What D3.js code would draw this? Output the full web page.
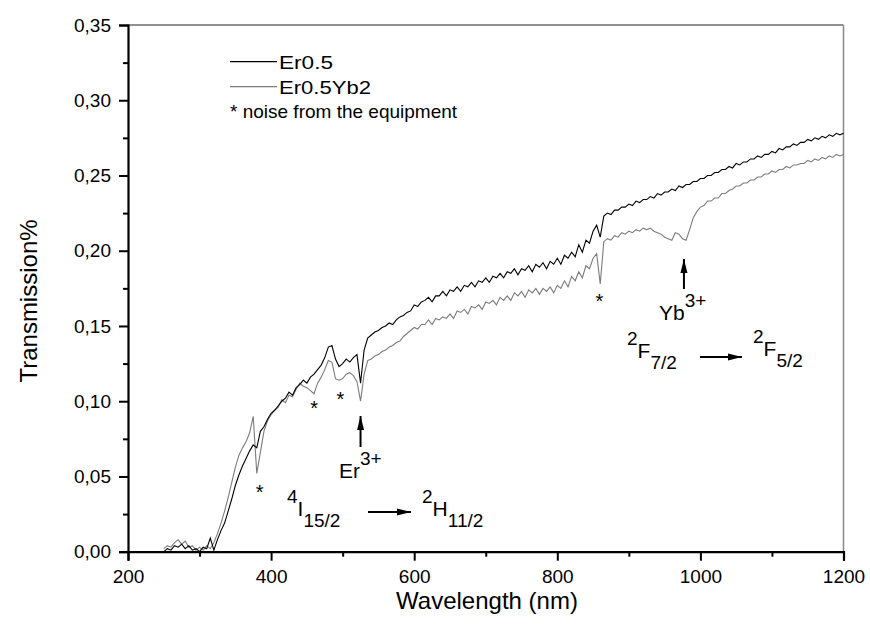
<!DOCTYPE html>
<html><head><meta charset="utf-8">
<script src="https://cdn.jsdelivr.net/npm/d3@7"></script>
<style>
html,body{margin:0;padding:0;background:#fff;}
svg text{font-family:"Liberation Sans",Arial,sans-serif;fill:#000;}
</style></head>
<body><svg id="chart" width="870" height="633"></svg>
<script>
const wavelength = [250,255,260,265,270,275,280,285,290,295,300,305,310,315,320,325,330,335,340,345,350,355,360,365,370,375,380,385,390,395,400,405,410,415,420,425,430,435,440,445,450,455,460,465,470,475,480,485,490,495,500,505,510,515,520,525,530,535,540,545,550,555,560,565,570,575,580,585,590,595,600,605,610,615,620,625,630,635,640,645,650,655,660,665,670,675,680,685,690,695,700,705,710,715,720,725,730,735,740,745,750,755,760,765,770,775,780,785,790,795,800,805,810,815,820,825,830,835,840,845,850,855,860,865,870,875,880,885,890,895,900,905,910,915,920,925,930,935,940,945,950,955,960,965,970,975,980,985,990,995,1000,1005,1010,1015,1020,1025,1030,1035,1040,1045,1050,1055,1060,1065,1070,1075,1080,1085,1090,1095,1100,1105,1110,1115,1120,1125,1130,1135,1140,1145,1150,1155,1160,1165,1170,1175,1180,1185,1190,1195,1200];

const er05 = [
0.000,0.002,0.001,0.004,0.003,0.005,0.002,0.004,0.001,0.002,
0.000,0.003,0.002,0.009,0.001,0.008,0.014,0.019,0.027,0.035,
0.044,0.051,0.057,0.062,0.067,0.071,0.069,0.080,0.083,0.088,
0.092,0.094,0.097,0.100,0.102,0.106,0.104,0.109,0.111,0.114,
0.112,0.116,0.118,0.121,0.124,0.129,0.136,0.137,0.128,0.123,
0.125,0.128,0.126,0.129,0.131,0.112,0.134,0.142,0.144,0.146,
0.147,0.149,0.150,0.152,0.151,0.154,0.156,0.157,0.159,0.160,
0.164,0.163,0.166,0.167,0.169,0.166,0.170,0.170,0.173,0.170,
0.174,0.173,0.176,0.173,0.177,0.176,0.179,0.176,0.180,0.179,
0.182,0.179,0.183,0.182,0.185,0.182,0.186,0.185,0.188,0.184,
0.188,0.187,0.190,0.186,0.191,0.189,0.192,0.188,0.193,0.191,
0.195,0.191,0.197,0.195,0.199,0.196,0.204,0.199,0.207,0.205,
0.213,0.217,0.209,0.223,0.225,0.224,0.227,0.227,0.229,0.229,
0.231,0.230,0.233,0.232,0.234,0.234,0.236,0.235,0.238,0.237,
0.239,0.239,0.241,0.240,0.243,0.242,0.244,0.244,0.246,0.246,
0.248,0.248,0.250,0.250,0.252,0.252,0.254,0.254,0.256,0.255,
0.258,0.257,0.259,0.259,0.261,0.261,0.263,0.262,0.264,0.264,
0.266,0.265,0.268,0.267,0.269,0.269,0.271,0.270,0.272,0.272,
0.274,0.273,0.275,0.274,0.276,0.275,0.277,0.276,0.278,0.277,
0.278];

const er05yb2 = [
0.002,0.004,0.003,0.006,0.008,0.005,0.007,0.003,0.004,0.001,
0.003,0.001,0.004,0.002,0.006,0.012,0.019,0.027,0.036,0.046,
0.056,0.064,0.069,0.073,0.079,0.090,0.052,0.066,0.080,0.087,
0.091,0.094,0.096,0.101,0.099,0.104,0.103,0.108,0.112,0.110,
0.109,0.107,0.105,0.112,0.116,0.121,0.127,0.126,0.115,0.114,
0.115,0.118,0.119,0.117,0.113,0.100,0.118,0.127,0.128,0.130,
0.131,0.133,0.134,0.136,0.137,0.139,0.140,0.143,0.145,0.147,
0.149,0.148,0.151,0.151,0.154,0.151,0.155,0.154,0.156,0.155,
0.158,0.155,0.160,0.159,0.161,0.158,0.163,0.162,0.164,0.161,
0.166,0.165,0.167,0.164,0.169,0.167,0.170,0.167,0.172,0.170,
0.173,0.169,0.174,0.172,0.175,0.171,0.175,0.173,0.176,0.172,
0.177,0.175,0.180,0.176,0.183,0.180,0.186,0.182,0.190,0.188,
0.195,0.198,0.178,0.206,0.208,0.207,0.210,0.209,0.212,0.211,
0.213,0.212,0.214,0.213,0.215,0.214,0.215,0.213,0.212,0.211,
0.209,0.208,0.207,0.212,0.211,0.208,0.207,0.214,0.222,0.226,
0.229,0.230,0.233,0.233,0.235,0.235,0.238,0.238,0.240,0.241,
0.243,0.243,0.245,0.245,0.247,0.247,0.249,0.249,0.251,0.251,
0.253,0.252,0.254,0.254,0.256,0.255,0.257,0.257,0.258,0.258,
0.260,0.259,0.261,0.260,0.262,0.261,0.263,0.262,0.264,0.263,
0.264];

const seriesNames = ["Er0.5", "Er0.5Yb2"];
const seriesColors = ["#000000", "#7c7c7c"];
const xTicks = [200, 400, 600, 800, 1000, 1200];
const xMinorTicks = [300, 500, 700, 900, 1100];
const yTicks = [0, 0.05, 0.10, 0.15, 0.20, 0.25, 0.30, 0.35];
const yTickLabels = ["0,00","0,05","0,10","0,15","0,20","0,25","0,30","0,35"];
const yMinorTicks = [0.025, 0.075, 0.125, 0.175, 0.225, 0.275, 0.325];
const noiseMarks = [[384, 0.051], [460, 0.107], [497, 0.113], [859, 0.178]];

const svg = d3.select("#chart");
const L = 128, R = 843.5, T = 25, B = 551.7;
const x = d3.scaleLinear().domain([200, 1200]).range([L, R]);
const y = d3.scaleLinear().domain([0, 0.35]).range([B, T]);

svg.append("line").attr("x1", L).attr("x2", R).attr("y1", T).attr("y2", T)
  .style("stroke", "#222").style("stroke-width", 1.2);
svg.append("line").attr("x1", R).attr("x2", R).attr("y1", T).attr("y2", B)
  .style("stroke", "#888").style("stroke-width", 1.5);

const series = [er05, er05yb2];
const line = d3.line().x((d, i) => x(wavelength[i])).y(d => y(d));
[1, 0].forEach(k => {
  svg.append("path").datum(series[k]).attr("d", line)
    .style("fill", "none").style("stroke", seriesColors[k]).style("stroke-width", 1.1);
});

const tickFont = "19px";
const xAxis = d3.axisBottom(x).tickValues(xTicks).tickSize(9).tickPadding(9).tickFormat(d3.format("d"));
const gx = svg.append("g").attr("transform", `translate(0,${B})`).call(xAxis);
gx.select(".domain").style("stroke-width", 2.2).style("stroke", "#000");
gx.selectAll(".tick line").style("stroke-width", 2).style("stroke", "#000");
gx.selectAll("text").style("font-size", tickFont).style("font-family", "Liberation Sans, Arial, sans-serif");
const xMinor = d3.axisBottom(x).tickValues(xMinorTicks).tickSize(5).tickFormat("");
const gxm = svg.append("g").attr("transform", `translate(0,${B})`).call(xMinor);
gxm.select(".domain").remove();
gxm.selectAll(".tick line").style("stroke-width", 2).style("stroke", "#000");

const yAxis = d3.axisLeft(y).tickValues(yTicks).tickSize(9).tickPadding(8)
  .tickFormat((d, i) => yTickLabels[i]);
const gy = svg.append("g").attr("transform", `translate(${L},0)`).call(yAxis);
gy.select(".domain").style("stroke-width", 2.2).style("stroke", "#000");
gy.selectAll(".tick line").style("stroke-width", 2).style("stroke", "#000");
gy.selectAll("text").style("font-size", tickFont).style("font-family", "Liberation Sans, Arial, sans-serif");
const yMinor = d3.axisLeft(y).tickValues(yMinorTicks).tickSize(5).tickFormat("");
const gym = svg.append("g").attr("transform", `translate(${L},0)`).call(yMinor);
gym.select(".domain").remove();
gym.selectAll(".tick line").style("stroke-width", 2).style("stroke", "#000");

svg.append("text").attr("x", 487).attr("y", 609).attr("text-anchor", "middle")
  .style("font-size", "24px").text("Wavelength (nm)");
svg.append("text").attr("transform", `translate(37,301) rotate(-90)`)
  .attr("text-anchor", "middle").style("font-size", "24px").text("Transmission%");

const legendWidths = [54, 92];
seriesNames.forEach((n, i) => {
  const ly = 61.7 + i * 25;
  svg.append("line").attr("x1", 230).attr("x2", 277).attr("y1", ly).attr("y2", ly)
    .style("stroke", seriesColors[i]).style("stroke-width", 1.2);
  svg.append("text").attr("x", 279).attr("y", ly + 7).style("font-size", "19px")
    .attr("textLength", legendWidths[i]).attr("lengthAdjust", "spacingAndGlyphs").text(n);
});
svg.append("text").attr("x", 230).attr("y", 118).style("font-size", "19px").text("* noise from the equipment");

noiseMarks.forEach(([w, v]) => {
  svg.append("text").attr("x", x(w)).attr("y", y(v) + 24).attr("text-anchor", "middle")
    .style("font-size", "20px").text("*");
});

svg.append("defs").append("marker").attr("id", "ah").attr("viewBox", "0 0 14 8")
  .attr("refX", 14).attr("refY", 4).attr("markerWidth", 14).attr("markerHeight", 8)
  .attr("markerUnits", "userSpaceOnUse").attr("orient", "auto")
  .append("path").attr("d", "M0,0.5 L14,4 L0,7.5 Z").attr("fill", "#000");
function arrow(x1, y1, x2, y2) {
  svg.append("line").attr("x1", x1).attr("y1", y1).attr("x2", x2).attr("y2", y2)
    .style("stroke", "#000").style("stroke-width", 2).attr("marker-end", "url(#ah)");
}
arrow(x(525), 447, x(525), 416);
arrow(x(977), 289, x(977), 259);
arrow(368, 512, 411, 512);
arrow(700, 357, 742, 357);

function label(xx, yy, main, sup, sub, size) {
  const t = svg.append("text").attr("x", xx).attr("y", yy).style("font-size", size + "px");
  if (sup) t.append("tspan").attr("dy", -13).style("font-size", (size - 2) + "px").text(sup);
  t.append("tspan").attr("dy", sup ? 13 : 0).text(main);
  if (sub) t.append("tspan").attr("dy", 11).style("font-size", (size - 2) + "px").text(sub);
}
svg.append("text").attr("x", 339).attr("y", 478).style("font-size", "21px")
  .text("Er").append("tspan").attr("dy", -13).style("font-size", "19px").text("3+");
svg.append("text").attr("x", 659).attr("y", 320).style("font-size", "21px")
  .text("Yb").append("tspan").attr("dy", -13).style("font-size", "19px").text("3+");
label(287, 516, "I", "4", "15/2", 21);
label(422, 516, "H", "2", "11/2", 21);
label(627, 358, "F", "2", "7/2", 21);
label(753, 356, "F", "2", "5/2", 21);
</script></body></html>
